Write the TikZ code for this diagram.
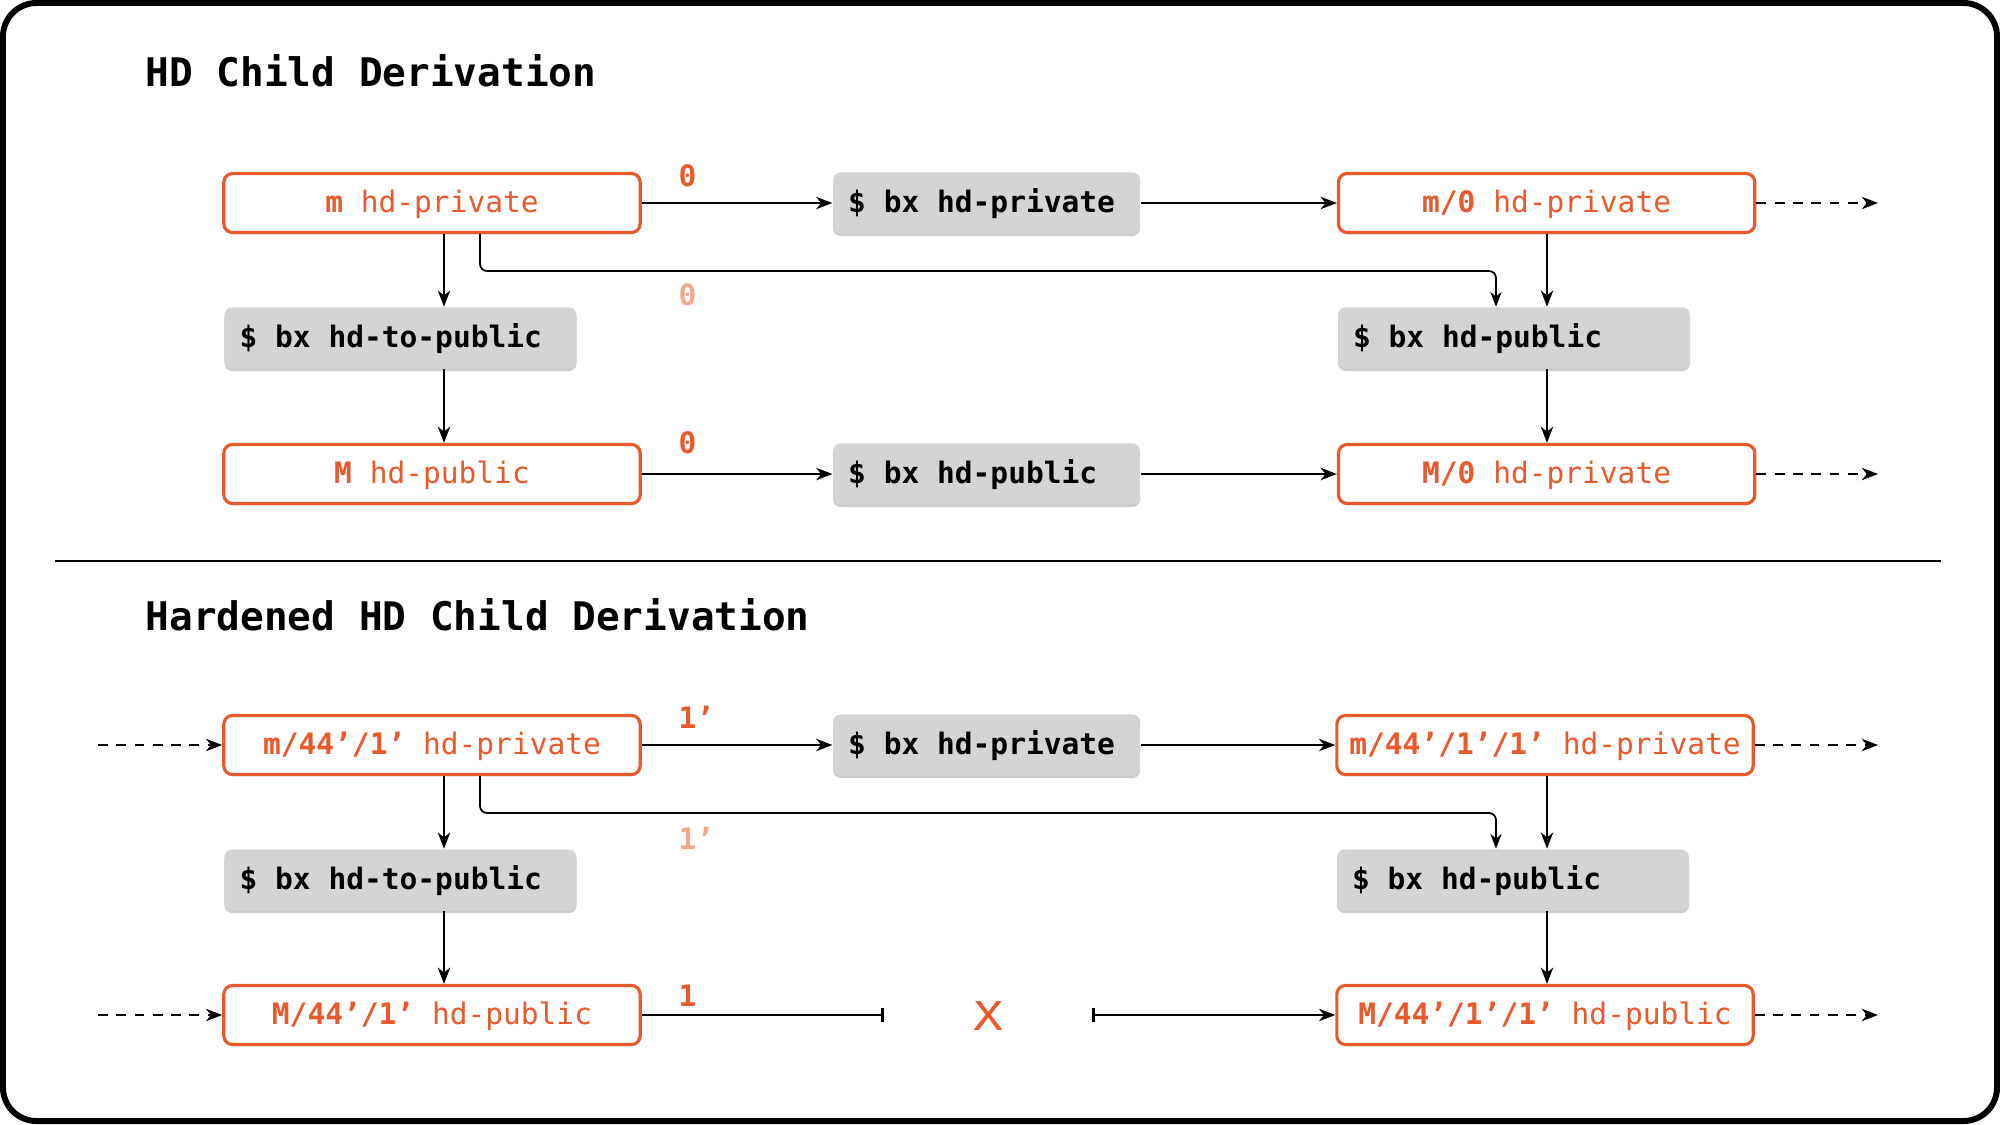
\documentclass[tikz,border=0pt]{standalone}
\usepackage{fontspec}
\usepackage{graphicx}
\newfontfamily\codefont{DejaVu Sans Mono}
\usetikzlibrary{arrows.meta,shadows}

\definecolor{keyorange}{RGB}{232,89,43}
\definecolor{keyfade}{RGB}{243,168,140}
\definecolor{cmdgray}{RGB}{212,212,212}

\tikzset{
  frame/.style={line width=1.7pt, rounded corners=9.5pt},
  heading/.style={anchor=base west, inner sep=0pt,
    font=\codefont\bfseries\fontsize{11.2}{13}\selectfont},
  keybox/.style={draw=keyorange, line width=0.9pt, fill=white, rounded corners=2.5pt,
    minimum width=118.4pt, minimum height=16.8pt, inner sep=0pt,
    text=keyorange, font=\codefont\fontsize{8.4}{10}\selectfont,
    text height=7pt, text depth=1.6pt,
    drop shadow={shadow xshift=0pt, shadow yshift=-0.5pt, opacity=0.12, fill=black}},
  cmdbox/.style={fill=cmdgray, rounded corners=2.2pt, minimum height=17.4pt,
    inner xsep=4.3pt, inner ysep=0pt,
    font=\codefont\bfseries\fontsize{8.4}{10}\selectfont,
    text height=7pt, text depth=1.6pt,
    execute at begin node={\hbox to #1\bgroup},
    execute at end node={\hfil\egroup},
    drop shadow={shadow xshift=0pt, shadow yshift=-0.7pt, opacity=0.2, fill=black}},
  cmdbox/.default=91.5pt,
  cmdmid/.style={cmdbox=78.7pt},
  lbl/.style={anchor=west, inner sep=0pt, text=keyorange,
    font=\codefont\bfseries\fontsize{8.4}{10}\selectfont},
  lblfade/.style={lbl, text=keyfade},
  crossmark/.style={inner sep=0pt, text=keyorange,
    font=\codefont\fontsize{11.3}{13}\selectfont},
  arr/.style={line width=0.7pt, -{Stealth[length=4.6pt,width=3.5pt,inset=1.4pt]}},
  thinarr/.style={line width=0.5pt, rounded corners=2pt,
    -{Stealth[length=4.2pt,width=3.2pt,inset=1.3pt]}},
  dasharr/.style={arr, line width=0.75pt, dash pattern=on 2.8pt off 2.4pt},
  barend/.style={line width=0.7pt, -{Bar[width=4.2pt,line width=0.9pt]}},
  barstart/.style={line width=0.7pt,
    {Bar[width=4.2pt,line width=0.9pt]}-{Stealth[length=4.6pt,width=3.5pt,inset=1.4pt]}}
}

\begin{document}
\begin{tikzpicture}[x=0.01cm, y=-0.01cm]

  \useasboundingbox (0,0) rectangle (2000,1124);
  \draw[frame] (3,3) rectangle (1997,1121);

  \node[heading] (title1) at (145,87)  {HD Child Derivation};
  \node[heading] (title2) at (145,630) {Hardened HD Child Derivation};
  \draw[line width=0.6pt] (55,561) -- (1941,561);

  % columns of the vertical links
  \coordinate (lx) at (444,0);
  \coordinate (rx) at (1547,0);
  \coordinate (ax) at (480,0);
  \coordinate (bx) at (1496,0);

  % normal derivation
  \node[keybox] (m)      at (432,203)    {\textbf{m} hd-private};
  \node[cmdmid] (privA)  at (986.6,203)  {\$ bx hd-private};
  \node[keybox] (m0)     at (1546.6,203) {\textbf{m/0} hd-private};
  \node[cmdbox] (topubA) at (400.5,338)  {\$ bx hd-to-public};
  \node[cmdbox] (pubA)   at (1514,338)   {\$ bx hd-public};
  \node[keybox] (M)      at (432,474)    {\textbf{M} hd-public};
  \node[cmdmid] (pubB)   at (986.6,474)  {\$ bx hd-public};
  \node[keybox] (M0)     at (1546.6,474) {\textbf{M/0} hd-private};

  \coordinate (outA) at (1878,203);
  \coordinate (outB) at (1878,474);
  \coordinate (viaA) at (1000,271);

  \node[lbl]     (idxA) at (678,176) {0};
  \node[lblfade] (idxB) at (678,295) {0};
  \node[lbl]     (idxC) at (678,443) {0};

  \draw[arr] (m) -- (privA);
  \draw[arr] (privA) -- (m0);
  \draw[dasharr] (m0) -- (outA);
  \draw[arr] (m.south -| lx) -- (topubA.north -| lx);
  \draw[arr] (topubA.south -| lx) -- (M.north -| lx);
  \draw[thinarr] (m.south -| ax) |- (viaA) -| (pubA.north -| bx);
  \draw[arr] (m0.south -| rx) -- (pubA.north -| rx);
  \draw[arr] (pubA.south -| rx) -- (M0.north -| rx);
  \draw[arr] (M) -- (pubB);
  \draw[arr] (pubB) -- (M0);
  \draw[dasharr] (M0) -- (outB);

  % hardened derivation
  \node[keybox] (hm)     at (432,745)    {\textbf{m/44’/1’} hd-private};
  \node[cmdmid] (privC)  at (986.6,745)  {\$ bx hd-private};
  \node[keybox] (hm1)    at (1545,745)   {\textbf{m/44’/1’/1’} hd-private};
  \node[cmdbox] (topubB) at (400.5,880)  {\$ bx hd-to-public};
  \node[cmdbox] (pubC)   at (1513,880)   {\$ bx hd-public};
  \node[keybox] (hM)     at (432,1015)   {\textbf{M/44’/1’} hd-public};
  \node[keybox] (hM1)    at (1545,1015)  {\textbf{M/44’/1’/1’} hd-public};
  \node[crossmark] (nope) at (988.6,1016) {\scalebox{1.25}[1]{X}};

  \coordinate (inC)   at (98,745);
  \coordinate (inD)   at (98,1015);
  \coordinate (outC)  at (1878,745);
  \coordinate (outD)  at (1878,1015);
  \coordinate (viaB)  at (1000,813);
  \coordinate (stopA) at (884,1015);
  \coordinate (stopB) at (1092,1015);

  \node[lbl]     (idxD) at (678,717) {1’};
  \node[lblfade] (idxE) at (678,838) {1’};
  \node[lbl]     (idxF) at (678,996) {1};

  \draw[dasharr] (inC) -- (hm);
  \draw[arr] (hm) -- (privC);
  \draw[arr] (privC) -- (hm1);
  \draw[dasharr] (hm1) -- (outC);
  \draw[arr] (hm.south -| lx) -- (topubB.north -| lx);
  \draw[arr] (topubB.south -| lx) -- (hM.north -| lx);
  \draw[thinarr] (hm.south -| ax) |- (viaB) -| (pubC.north -| bx);
  \draw[arr] (hm1.south -| rx) -- (pubC.north -| rx);
  \draw[arr] (pubC.south -| rx) -- (hM1.north -| rx);
  \draw[dasharr] (inD) -- (hM);
  \draw[barend] (hM) -- (stopA);
  \draw[barstart] (stopB) -- (hM1);
  \draw[dasharr] (hM1) -- (outD);

\end{tikzpicture}
\end{document}
